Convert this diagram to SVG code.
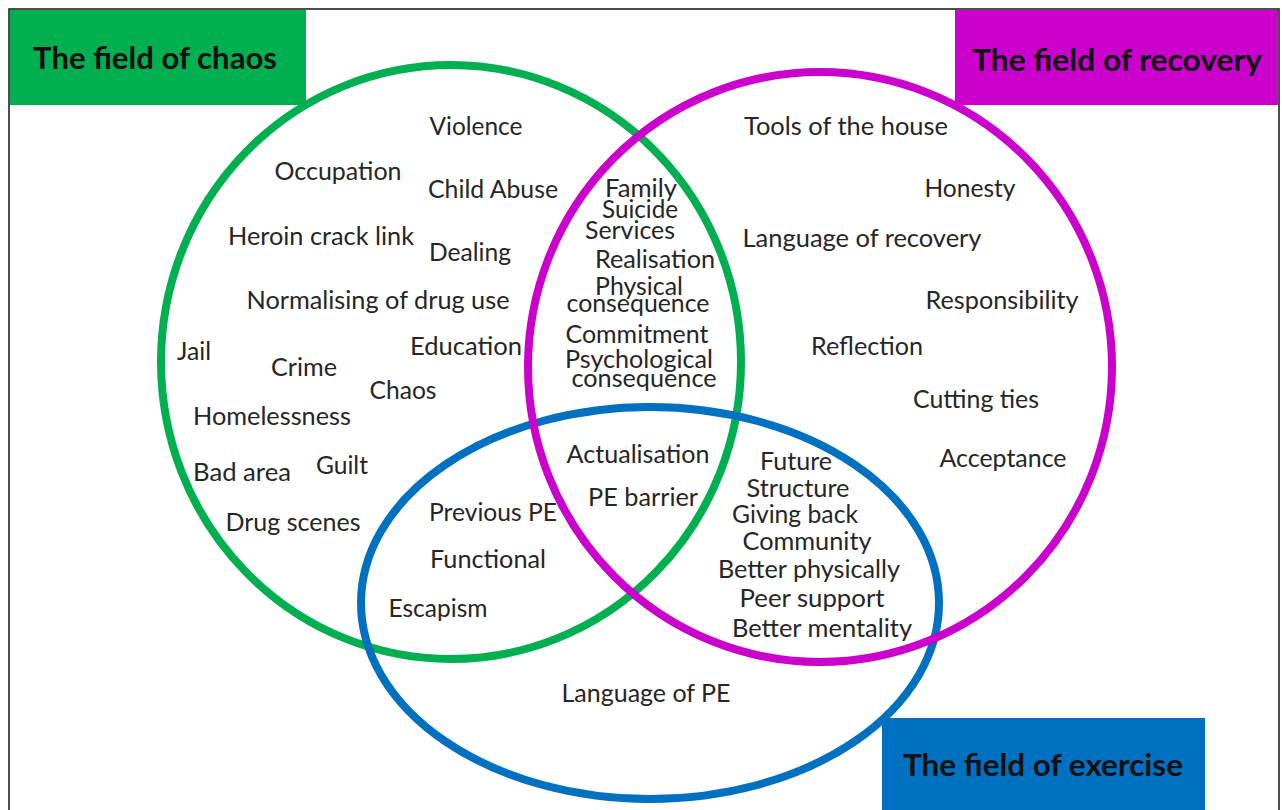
<svg xmlns="http://www.w3.org/2000/svg" width="1282" height="810" viewBox="0 0 1282 810">
<style>
.t{font-family:Lato,"Open Sans","Noto Sans",sans-serif;font-size:25px;fill:#262626;text-anchor:middle}
.h{font-family:Lato,"Open Sans","Noto Sans",sans-serif;font-size:31px;font-weight:bold;fill:#111;text-anchor:middle}
.c{fill:none;stroke-width:8}
</style>
<rect x="0" y="0" width="1282" height="810" fill="#fff"/>
<rect x="9" y="9" width="1270" height="830" fill="none" stroke="#222" stroke-width="1.6"/>
<g id="field-chaos">
<ellipse class="c" cx="451" cy="362" rx="290" ry="297" stroke="#00B050"/>
</g>
<g id="field-exercise">
<ellipse class="c" cx="650" cy="603" rx="289" ry="196" stroke="#0070C0"/>
</g>
<g id="field-recovery">
<ellipse class="c" cx="820" cy="367" rx="292" ry="295" stroke="#CC00CC"/>
</g>
<g id="label-chaos">
<rect x="10" y="10" width="296" height="95" fill="#00B050"/>
<text class="h" x="155" y="69" textLength="244" lengthAdjust="spacingAndGlyphs">The field of chaos</text>
</g>
<g id="label-recovery">
<rect x="955" y="10" width="323" height="95" fill="#CC00CC"/>
<text class="h" x="1117" y="71" textLength="290" lengthAdjust="spacingAndGlyphs">The field of recovery</text>
</g>
<g id="label-exercise">
<rect x="882" y="718" width="323" height="92" fill="#0070C0"/>
<text class="h" x="1043" y="776" textLength="280" lengthAdjust="spacingAndGlyphs">The field of exercise</text>
</g>
<g id="chaos-items">
<text class="t" x="476" y="135" textLength="93" lengthAdjust="spacingAndGlyphs">Violence</text>
<text class="t" x="338" y="180" textLength="127" lengthAdjust="spacingAndGlyphs">Occupation</text>
<text class="t" x="493" y="198" textLength="130" lengthAdjust="spacingAndGlyphs">Child Abuse</text>
<text class="t" x="321" y="245" textLength="186" lengthAdjust="spacingAndGlyphs">Heroin crack link</text>
<text class="t" x="470" y="261" textLength="82" lengthAdjust="spacingAndGlyphs">Dealing</text>
<text class="t" x="378" y="309" textLength="263" lengthAdjust="spacingAndGlyphs">Normalising of drug use</text>
<text class="t" x="194" y="360" textLength="34" lengthAdjust="spacingAndGlyphs">Jail</text>
<text class="t" x="466" y="355" textLength="112" lengthAdjust="spacingAndGlyphs">Education</text>
<text class="t" x="304" y="376" textLength="66" lengthAdjust="spacingAndGlyphs">Crime</text>
<text class="t" x="403" y="399" textLength="67" lengthAdjust="spacingAndGlyphs">Chaos</text>
<text class="t" x="272" y="425" textLength="158" lengthAdjust="spacingAndGlyphs">Homelessness</text>
<text class="t" x="242" y="481" textLength="98" lengthAdjust="spacingAndGlyphs">Bad area</text>
<text class="t" x="342" y="474" textLength="52" lengthAdjust="spacingAndGlyphs">Guilt</text>
<text class="t" x="293" y="531" textLength="135" lengthAdjust="spacingAndGlyphs">Drug scenes</text>
</g>
<g id="chaos-recovery-items">
<text class="t" x="641" y="197" textLength="72" lengthAdjust="spacingAndGlyphs">Family</text>
<text class="t" x="640" y="218" textLength="76" lengthAdjust="spacingAndGlyphs">Suicide</text>
<text class="t" x="630" y="239" textLength="90" lengthAdjust="spacingAndGlyphs">Services</text>
<text class="t" x="655" y="268" textLength="120" lengthAdjust="spacingAndGlyphs">Realisation</text>
<text class="t" x="639" y="295" textLength="88" lengthAdjust="spacingAndGlyphs">Physical</text>
<text class="t" x="638" y="312" textLength="143" lengthAdjust="spacingAndGlyphs">consequence</text>
<text class="t" x="637" y="343" textLength="143" lengthAdjust="spacingAndGlyphs">Commitment</text>
<text class="t" x="639" y="368" textLength="148" lengthAdjust="spacingAndGlyphs">Psychological</text>
<text class="t" x="644" y="387" textLength="145" lengthAdjust="spacingAndGlyphs">consequence</text>
</g>
<g id="recovery-items">
<text class="t" x="846" y="135" textLength="204" lengthAdjust="spacingAndGlyphs">Tools of the house</text>
<text class="t" x="970" y="197" textLength="91" lengthAdjust="spacingAndGlyphs">Honesty</text>
<text class="t" x="862" y="247" textLength="239" lengthAdjust="spacingAndGlyphs">Language of recovery</text>
<text class="t" x="1002" y="309" textLength="153" lengthAdjust="spacingAndGlyphs">Responsibility</text>
<text class="t" x="867" y="355" textLength="112" lengthAdjust="spacingAndGlyphs">Reflection</text>
<text class="t" x="976" y="408" textLength="126" lengthAdjust="spacingAndGlyphs">Cutting ties</text>
<text class="t" x="1003" y="467" textLength="127" lengthAdjust="spacingAndGlyphs">Acceptance</text>
</g>
<g id="all-fields-items">
<text class="t" x="638" y="463" textLength="143" lengthAdjust="spacingAndGlyphs">Actualisation</text>
<text class="t" x="643" y="506" textLength="110" lengthAdjust="spacingAndGlyphs">PE barrier</text>
</g>
<g id="chaos-exercise-items">
<text class="t" x="493" y="521" textLength="128" lengthAdjust="spacingAndGlyphs">Previous PE</text>
<text class="t" x="488" y="568" textLength="116" lengthAdjust="spacingAndGlyphs">Functional</text>
<text class="t" x="438" y="617" textLength="99" lengthAdjust="spacingAndGlyphs">Escapism</text>
</g>
<g id="recovery-exercise-items">
<text class="t" x="796" y="470" textLength="72" lengthAdjust="spacingAndGlyphs">Future</text>
<text class="t" x="798" y="497" textLength="103" lengthAdjust="spacingAndGlyphs">Structure</text>
<text class="t" x="795" y="523" textLength="126" lengthAdjust="spacingAndGlyphs">Giving back</text>
<text class="t" x="807" y="550" textLength="129" lengthAdjust="spacingAndGlyphs">Community</text>
<text class="t" x="809" y="578" textLength="182" lengthAdjust="spacingAndGlyphs">Better physically</text>
<text class="t" x="812" y="607" textLength="145" lengthAdjust="spacingAndGlyphs">Peer support</text>
<text class="t" x="822" y="637" textLength="180" lengthAdjust="spacingAndGlyphs">Better mentality</text>
</g>
<g id="exercise-items">
<text class="t" x="646" y="702" textLength="169" lengthAdjust="spacingAndGlyphs">Language of PE</text>
</g>
</svg>
